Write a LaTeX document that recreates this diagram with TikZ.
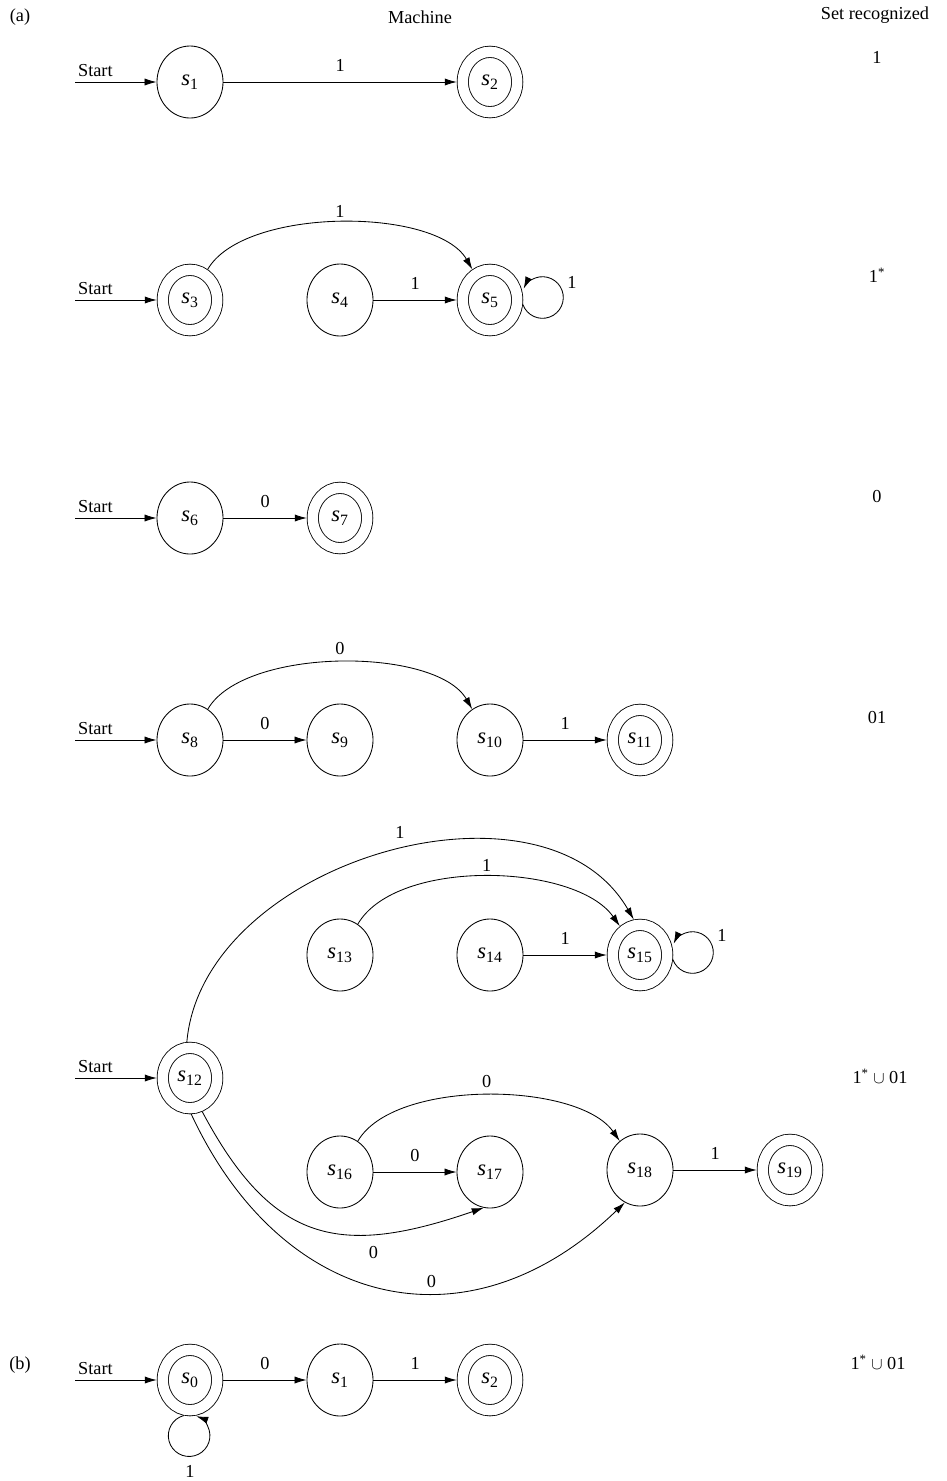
\documentclass[tikz,border=0pt]{standalone}
\usepackage{fontspec}
\setmainfont{Liberation Serif}
\usetikzlibrary{arrows.meta, positioning, shapes.geometric}
\newcommand{\sname}[1]{\textit{s}\textsubscript{#1}}

\begin{document}
\begin{tikzpicture}[
  x=0.025cm, y=-0.025cm,
  every node/.style={font=\fontsize{13}{15}\selectfont},
  state/.style={draw, ellipse, inner sep=0pt, line width=0.6pt, minimum width=1.65cm, minimum height=1.8cm,
    font=\fontsize{16}{18}\selectfont},
  accept/.style={state, minimum width=1.36cm, minimum height=1.51cm,
    double, double distance=0.26cm, outer sep=0.15cm},
  arr/.style={-{Latex[length=3mm, width=1.8mm]}, line width=0.6pt},
  lbl/.style={above=4pt}
]
  \useasboundingbox (0,0) rectangle (947,1481);

  % headings
  \node (ha) at (20,17) {(a)};
  \node (hm) at (420,17) {Machine};
  \node (hs) at (875,15) {Set recognized};

  % first machine
  \coordinate (in1) at (75,82);
  \node[state] (s1) at (190,82) {\sname{1}};
  \node[accept] (s2) at (490,82) {\sname{2}};
  \draw[arr] (in1) -- node[above, pos=0.25] {Start} (s1);
  \draw[arr] (s1) -- node[lbl] {1} (s2);
  \node (r1) at (877,57) {1};

  % second machine
  \coordinate (in2) at (75,300);
  \node[accept] (s3) at (190,300) {\sname{3}};
  \node[state] (s4) at (340,300) {\sname{4}};
  \node[accept] (s5) at (490,300) {\sname{5}};
  \draw[arr] (in2) -- node[above, pos=0.25] {Start} (s3);
  \draw[arr] (s3) to[out=60, in=120, looseness=0.7] node[above] {1} (s5);
  \draw[arr] (s4) -- node[lbl] {1} (s5);
  \draw[arr] (s5.-8) arc[start angle=-160, end angle=155, radius=0.52cm];
  \node (l5) at (572,282) {1};
  \node (r2) at (877,275) {1\textsuperscript{*}};

  % third machine
  \coordinate (in3) at (75,518);
  \node[state] (s6) at (190,518) {\sname{6}};
  \node[accept] (s7) at (340,518) {\sname{7}};
  \draw[arr] (in3) -- node[above, pos=0.25] {Start} (s6);
  \draw[arr] (s6) -- node[lbl] {0} (s7);
  \node (r3) at (877,497) {0};

  % fourth machine
  \coordinate (in4) at (75,740);
  \node[state] (s8) at (190,740) {\sname{8}};
  \node[state] (s9) at (340,740) {\sname{9}};
  \node[state] (s10) at (490,740) {\sname{10}};
  \node[accept] (s11) at (640,740) {\sname{11}};
  \draw[arr] (in4) -- node[above, pos=0.25] {Start} (s8);
  \draw[arr] (s8) to[out=60, in=120, looseness=0.7] node[above=2pt] {0} (s10);
  \draw[arr] (s8) -- node[lbl] {0} (s9);
  \draw[arr] (s10) -- node[lbl] {1} (s11);
  \node (r4) at (877,717) {01};

  % union machine
  \coordinate (in5) at (75,1078);
  \node[accept] (s12) at (190,1078) {\sname{12}};
  \node[state] (s13) at (340,955) {\sname{13}};
  \node[state] (s14) at (490,955) {\sname{14}};
  \node[accept] (s15) at (640,955) {\sname{15}};
  \node[state] (s16) at (340,1172) {\sname{16}};
  \node[state] (s17) at (490,1172) {\sname{17}};
  \node[state] (s18) at (640,1170) {\sname{18}};
  \node[accept] (s19) at (790,1170) {\sname{19}};
  \draw[arr] (in5) -- node[above, pos=0.25] {Start} (s12);
  \draw[arr] (s12.95) to[out=85, in=120] node[pos=0.53, lbl] {1} (s15.100);
  \draw[arr] (s13) to[out=60, in=125, looseness=0.75] node[above] {1} (s15);
  \draw[arr] (s14) -- node[lbl] {1} (s15);
  \draw[arr] (s15.-8) arc[start angle=-160, end angle=155, radius=0.52cm];
  \node (l15) at (722,935) {1};
  \draw[arr] (s16) to[out=60, in=125, looseness=0.71] node[above=2pt] {0} (s18);
  \draw[arr] (s16) -- node[lbl] {0} (s17);
  \draw[arr] (s18) -- node[lbl] {1} (s19);
  \draw[arr] (s12.-70) to[out=-62, in=-161, looseness=1.3] node[pos=0.7, below=5pt] {0} (s17.-100);
  \draw[arr] (s12.-88) to[out=-65, in=-136, looseness=1.25] node[pos=0.6, above] {0} (s18.-115);
  \node (r5) at (880,1076) {1\textsuperscript{*} $\cup$ 01};

  % (b)
  \node (hb) at (20,1365) {(b)};
  \coordinate (in6) at (75,1380);
  \node[accept] (t0) at (190,1380) {\sname{0}};
  \node[state] (t1) at (340,1380) {\sname{1}};
  \node[accept] (t2) at (490,1380) {\sname{2}};
  \draw[arr] (in6) -- node[above, pos=0.25] {Start} (t0);
  \draw[arr] (t0) -- node[lbl] {0} (t1);
  \draw[arr] (t1) -- node[lbl] {1} (t2);
  \draw[arr] (t0.-100) arc[start angle=105, end angle=430, radius=0.52cm];
  \node[inner sep=1pt] (l0) at (190,1471) {1};
  \node (r6) at (878,1362) {1\textsuperscript{*} $\cup$ 01};
\end{tikzpicture}
\end{document}
